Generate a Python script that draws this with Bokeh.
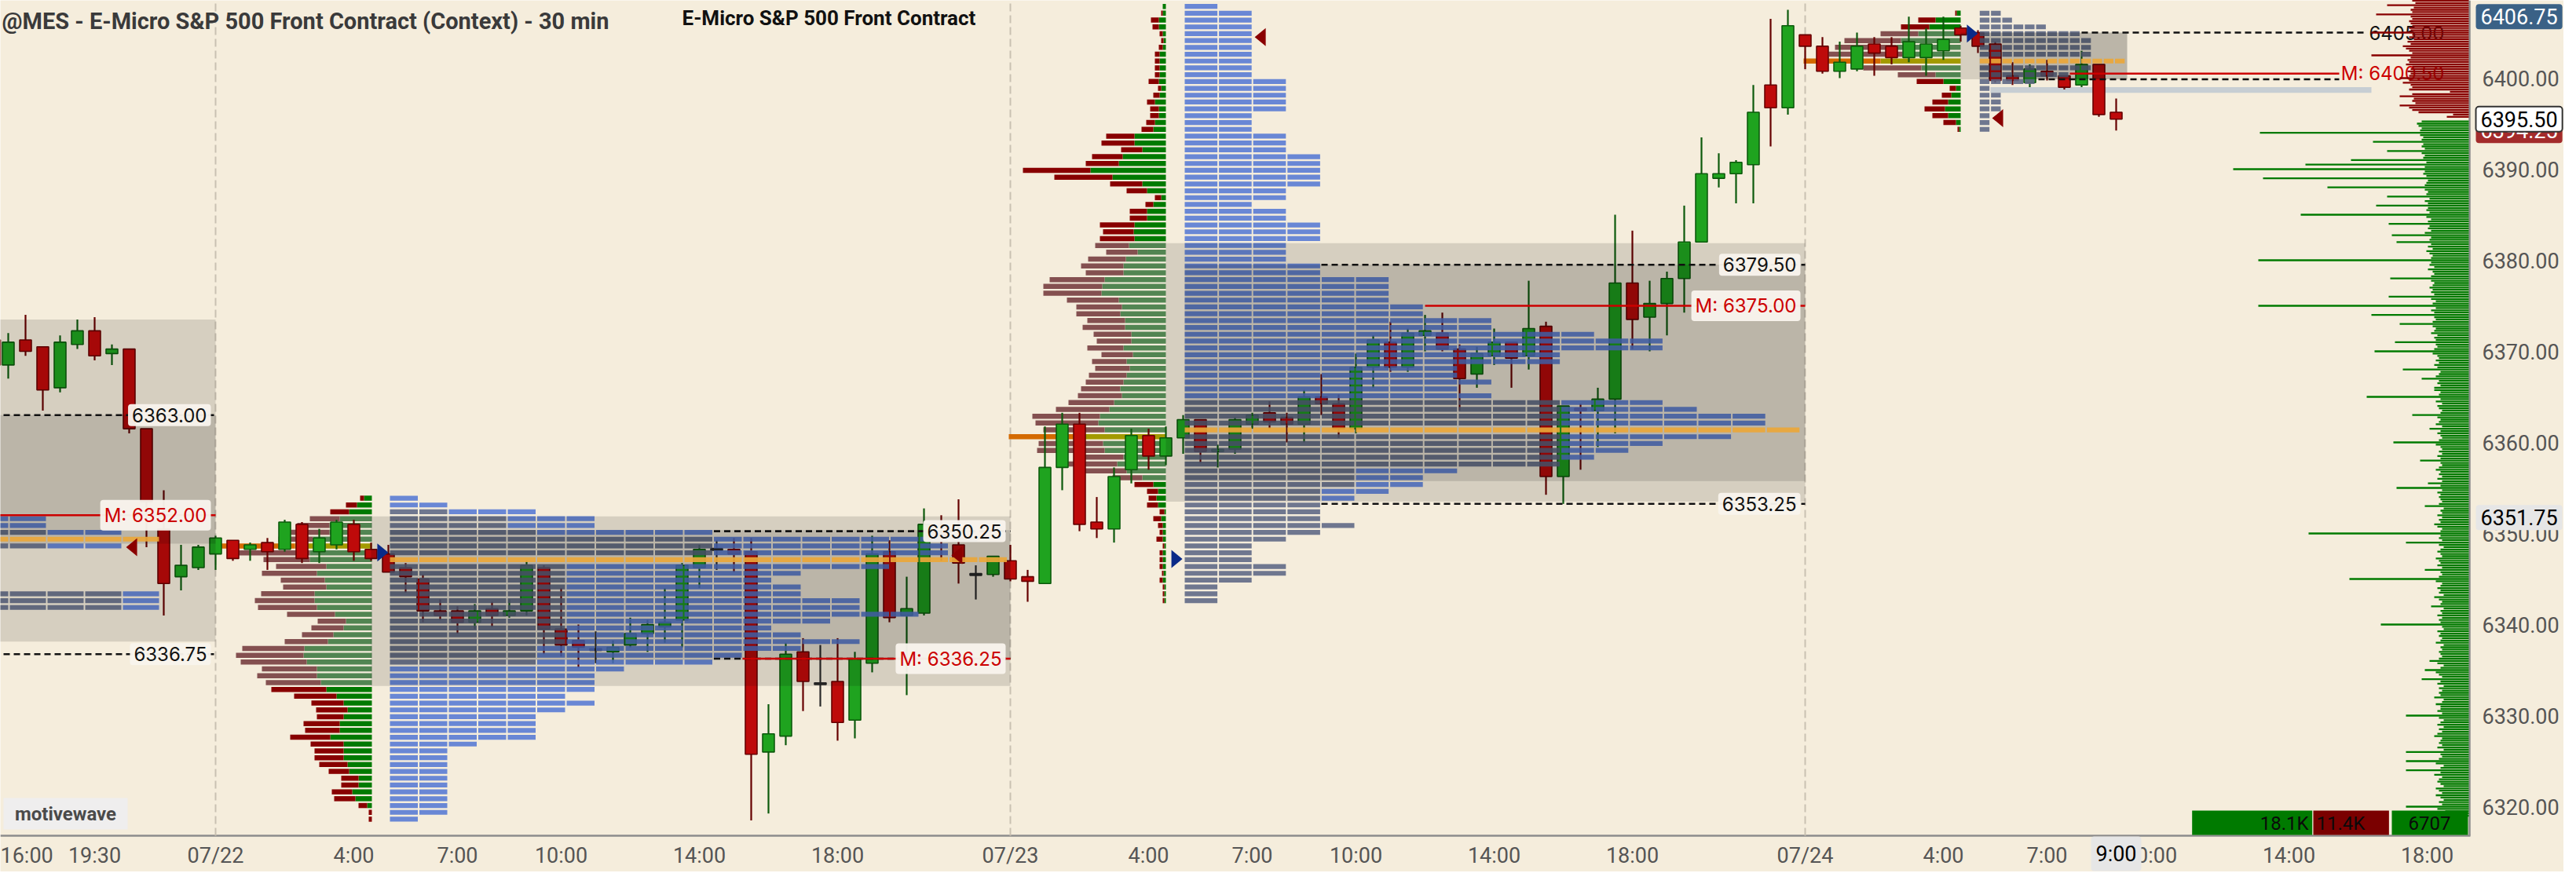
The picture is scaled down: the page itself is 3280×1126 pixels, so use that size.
import numpy as np
from bokeh.plotting import figure
from bokeh.models import Range1d, FixedTicker, Label, NumeralTickFormatter
from bokeh.core.properties import value
from bokeh.embed import file_html
from bokeh.resources import INLINE

# ======================= DATA =======================
# 30-minute bars; bar index 0 = 07/22 00:00, two bars per trading hour (23:00-24:00 break removed)
FIRST_BAR = -13
OPEN = [6371.25, 6368.5, 6371.25, 6370.5, 6366.0, 6370.75, 6372.25, 6369.75, 6370.25, 6361.5, 6350.5, 6345.25, 6346.25,
        6347.75, 6349.25, 6348.25, 6349.0, 6348.25, 6351.0, 6348.0, 6348.75, 6351.0, 6348.25,
        6347.75, 6346.25, 6345.0, 6341.5, 6341.5, 6340.25, 6341.75, 6341.0, 6341.5, 6346.25,
        6339.5, 6338.25, 6337.25, 6337.0, 6337.75, 6339.0, 6339.75, 6340.5, 6346.25, 6348.25,
        6348.25, 6348.0, 6326.0, 6327.75, 6337.0, 6333.5, 6333.75, 6329.5, 6335.75, 6348.0,
        6341.0, 6341.25, 6350.0, 6348.75, 6345.5, 6345.5, 6347.0, 6345.25, 6344.5, 6357.25,
        6362.0, 6351.25, 6350.5, 6357.0, 6360.75, 6358.5, 6360.5, 6362.5, 6359.0, 6359.25,
        6362.0, 6363.25, 6362.75, 6362.0, 6365.0, 6364.25, 6361.5, 6368.25, 6371.0, 6368.25,
        6371.75, 6372.0, 6370.25, 6367.5, 6369.5, 6371.0, 6369.5, 6372.75, 6356.25, 6363.75,
        6363.5, 6364.75, 6377.5, 6373.75, 6375.25, 6378.0, 6382.0, 6389.0, 6389.5, 6390.5,
        6399.25, 6396.75, 6404.75, 6403.5, 6400.75, 6401.0, 6403.75, 6403.5, 6402.25, 6402.25,
        6403.0, 6405.5, 6405.0, 6403.75, 6400.25, 6399.5, 6400.75, 6400.25, 6399.25, 6401.5, 6396.25]
HIGH = [6372.0, 6372.0, 6374.0, 6370.5, 6371.75, 6373.5, 6373.75, 6370.75, 6370.25, 6361.5, 6354.75, 6348.75, 6348.75,
        6349.75, 6349.25, 6349.0, 6349.5, 6351.5, 6351.25, 6350.5, 6351.5, 6351.5, 6349.0,
        6348.75, 6346.75, 6345.5, 6342.75, 6342.0, 6342.25, 6342.5, 6342.75, 6347.0, 6346.5,
        6344.0, 6340.0, 6339.25, 6338.25, 6340.75, 6340.5, 6344.0, 6346.75, 6348.75, 6349.25,
        6349.5, 6349.5, 6331.25, 6338.0, 6338.5, 6337.75, 6338.5, 6337.0, 6349.75, 6349.25,
        6345.25, 6352.75, 6352.0, 6353.75, 6346.5, 6347.5, 6348.75, 6346.0, 6361.75, 6363.25,
        6363.25, 6354.0, 6357.25, 6361.5, 6361.5, 6361.75, 6363.0, 6362.5, 6359.75, 6362.75,
        6363.25, 6364.5, 6363.25, 6365.75, 6367.5, 6365.25, 6369.75, 6371.75, 6373.25, 6372.5,
        6374.0, 6374.25, 6370.75, 6370.5, 6372.5, 6371.0, 6377.75, 6373.25, 6364.0, 6364.25,
        6366.0, 6385.0, 6383.25, 6377.75, 6378.75, 6386.0, 6393.5, 6391.75, 6391.0, 6399.25,
        6406.5, 6407.5, 6404.75, 6404.5, 6404.0, 6405.0, 6404.5, 6404.5, 6406.75, 6405.5,
        6406.75, 6405.75, 6405.25, 6404.0, 6401.75, 6401.5, 6402.0, 6400.25, 6403.0, 6401.5, 6397.75]
LOW = [6368.0, 6367.0, 6369.5, 6363.5, 6365.5, 6370.25, 6369.0, 6368.5, 6361.0, 6348.5, 6341.0, 6343.75, 6346.0,
       6346.0, 6347.0, 6347.0, 6346.0, 6348.0, 6346.75, 6346.75, 6348.25, 6347.0, 6347.0,
       6345.75, 6343.5, 6340.25, 6340.5, 6339.0, 6339.5, 6339.75, 6340.75, 6341.0, 6336.75,
       6336.5, 6335.25, 6335.75, 6335.75, 6337.5, 6337.0, 6338.0, 6337.5, 6344.0, 6346.0,
       6345.75, 6318.5, 6319.25, 6326.75, 6330.5, 6331.0, 6327.25, 6327.5, 6334.75, 6340.25,
       6332.25, 6341.0, 6347.0, 6344.5, 6342.75, 6345.25, 6344.75, 6342.5, 6344.5, 6354.75,
       6350.25, 6349.5, 6349.0, 6355.5, 6357.0, 6357.5, 6358.75, 6357.75, 6357.25, 6358.75,
       6361.5, 6361.5, 6360.0, 6360.0, 6363.0, 6360.5, 6361.0, 6366.0, 6367.75, 6367.75,
       6370.0, 6370.0, 6363.5, 6366.0, 6368.5, 6366.0, 6368.0, 6354.25, 6353.25, 6357.0,
       6359.5, 6361.0, 6370.25, 6370.0, 6371.75, 6374.25, 6382.0, 6388.0, 6386.25, 6386.25,
       6392.5, 6396.0, 6401.0, 6400.5, 6400.0, 6400.75, 6400.25, 6401.5, 6401.75, 6400.25,
       6402.0, 6404.0, 6402.75, 6399.5, 6399.25, 6399.0, 6399.75, 6398.75, 6399.0, 6395.75, 6394.25]
CLOSE = [6368.5, 6371.0, 6370.0, 6365.75, 6371.0, 6372.25, 6369.5, 6370.25, 6361.5, 6353.5, 6344.5, 6346.5, 6348.5,
         6349.5, 6347.25, 6348.75, 6348.0, 6351.25, 6347.25, 6349.5, 6351.25, 6348.0, 6347.25,
         6345.75, 6345.25, 6341.5, 6341.0, 6340.25, 6341.5, 6341.0, 6341.5, 6346.5, 6339.5,
         6337.75, 6337.5, 6337.25, 6337.5, 6339.0, 6340.0, 6340.25, 6346.5, 6348.25, 6348.25,
         6347.75, 6325.75, 6328.0, 6336.75, 6333.75, 6333.5, 6329.25, 6336.25, 6347.75, 6340.75,
         6341.75, 6351.0, 6349.75, 6346.75, 6345.5, 6347.5, 6345.0, 6344.75, 6357.25, 6362.0,
         6351.0, 6350.5, 6356.25, 6360.75, 6358.5, 6360.5, 6362.5, 6359.0, 6359.25, 6362.5,
         6363.0, 6362.25, 6362.0, 6365.0, 6364.25, 6361.5, 6368.25, 6371.25, 6368.25, 6372.0,
         6372.25, 6370.25, 6367.0, 6369.75, 6371.0, 6369.25, 6372.5, 6356.25, 6364.0, 6363.5,
         6364.75, 6377.5, 6373.5, 6375.25, 6378.0, 6382.0, 6389.5, 6389.5, 6390.75, 6396.25,
         6396.75, 6405.75, 6403.5, 6400.75, 6401.75, 6403.5, 6402.75, 6402.25, 6404.0, 6403.75,
         6404.25, 6404.75, 6403.5, 6399.75, 6399.75, 6401.0, 6400.25, 6399.0, 6401.5, 6396.0, 6395.5]

ROW = 0.75  # profile row height in points

# --- 07/21 session (only its right edge is visible) ---
S0_ROW_TOP = 6351.625
S0_TPO = [5, 5, 7, 8, 7, 3, 3, 2, 2, 3, 3, 8, 8, 8]
S0_TPO_ETH = [3, 3, 5, 7, 5, 3, 3, 2, 2, 3, 3, 7, 7, 7]
S0_TPO_POC = 3
S0_VOL_VA = (6373.5, 6338.125)
S0_TPO_VA = (6363.0, 6348.875)
S0_VAH, S0_VAL, S0_MED = 6363.00, 6336.75, 6352.00

# --- 07/22 session ---
S1_ROW_TOP = 6353.875
S1_TPO = [1, 2, 5, 7, 7, 11, 20, 19, 19, 21, 17, 14, 13, 14, 14, 16, 16, 18, 15, 13, 14, 16, 14, 12,
          11, 8, 7, 7, 7, 6, 7, 6, 5, 5, 5, 5, 3, 2, 2, 2, 2, 2, 2, 2, 2, 2, 2, 1]
S1_TPO_ETH = [0, 0, 2, 4, 4, 5, 11, 11, 11, 11, 6, 6, 6, 6, 6, 6, 6, 6, 6, 6, 6, 6, 5, 5,
              5, 0, 0, 0, 0, 0, 0, 0, 0, 0, 0, 0, 0, 0, 0, 0, 0, 0, 0, 0, 0, 0, 0, 0]
S1_TPO_POC = 9
S1_BUY = [10, 19, 29, 41, 54, 54, 75, 98, 79, 79, 58, 70, 60, 58, 73, 73, 70, 47, 33, 36, 49, 56, 86, 87,
          83, 70, 70, 65, 58, 45, 36, 31, 36, 41, 41, 53, 36, 36, 36, 31, 29, 17, 17, 25, 21, 6, 0, 0]
S1_SELL = [5, 14, 24, 38, 41, 54, 44, 103, 91, 59, 64, 70, 56, 55, 68, 76, 75, 61, 36, 41, 40, 55, 79, 86,
           84, 70, 76, 70, 70, 54, 41, 40, 34, 46, 44, 51, 42, 37, 37, 36, 26, 22, 22, 26, 27, 11, 4, 4]
S1_VOL_POC = 7
S1_VOL_VA_ROWS = (3, 27)
S1_VOL_VA = (6351.875, 6333.25)
S1_TPO_VA = (6350.375, 6336.125)
S1_VAH, S1_VAL, S1_MED = 6350.25, 6336.25, 6336.25

# --- 07/23 session ---
S2_ROW_TOP = 6407.875
S2_TPO = [1, 2, 2, 2, 2, 2, 2, 2, 2, 2, 2, 3, 3, 3, 3, 3, 2, 2, 2, 3, 3, 3, 4, 4, 4, 4, 4, 3, 3, 2,
          3, 3, 4, 4, 4, 3, 3, 3, 4, 4, 6, 6, 6, 6, 7, 7, 9, 9, 12, 14, 14, 11, 11, 8, 8, 9, 8, 9,
          14, 15, 17, 17, 18, 16, 14, 13, 12, 11, 8, 7, 7, 6, 5, 4, 4, 4, 5, 4, 3, 2, 2, 2, 3, 3,
          2, 1, 1, 1]
S2_TPO_ETH = [0] * 58 + [11, 11, 11, 11, 11, 11, 11, 11, 11, 11, 5, 5, 5, 4, 4,
                         4, 4, 4, 5, 4, 3, 2, 2, 2, 3, 3, 2, 1, 1, 1]
S2_TPO_POC = 62
S2_BUY = [4, 4, 9, 9, 4, 3, 4, 8, 8, 8, 8, 9, 6, 8, 14, 9, 9, 14, 16, 40, 40, 30, 55, 60, 96, 68, 30, 24,
          6, 16, 24, 24, 40, 41, 40, 47, 36, 51, 54, 54, 78, 81,
          82, 60, 56, 58, 52, 52, 44, 44, 54, 42, 50, 46, 50, 54, 58, 56, 66, 72, 84, 86, 78, 106,
          80, 78, 54, 62, 50, 30, 16, 10, 12, 10, 2, 6, 4, 4, 4, 2, 4, 4, 4, 3, 4, 2, 2, 2]
S2_SELL = [0, 2, 10, 8, 4, 3, 5, 6, 6, 6, 6, 13, 4, 8, 10, 11, 11, 11, 15, 36, 42, 27, 39, 42, 86, 74, 41,
           26, 8, 10, 22, 22, 44, 39, 44, 43, 40, 48, 54, 48, 70, 75,
           74, 66, 58, 56, 48, 54, 48, 44, 46, 40, 44, 44, 48, 48, 50, 56, 58, 68, 86, 80, 78, 94,
           82, 86, 62, 70, 54, 38, 24, 14, 10, 14, 6, 10, 6, 4, 8, 2, 4, 4, 4, 2, 4, 2, 2, 2]
S2_VOL_POC = 63
S2_VOL_VA_ROWS = (35, 69)
S2_VOL_VA = (6381.875, 6353.5)
S2_TPO_VA = (6379.5, 6355.75)
S2_VAH, S2_VAL, S2_MED = 6379.50, 6353.25, 6375.00

# --- 07/24 session (in progress) ---
S3_ROW_TOP = 6407.125
S3_TPO = [2, 3, 6, 9, 10, 10, 10, 13, 10, 8, 5, 1, 2, 2, 2, 1, 1, 1]
S3_TPO_ETH = [2, 3, 6, 9, 10, 10, 10, 13, 10, 8, 5, 1, 2, 2, 2, 1, 1, 1]
S3_TPO_POC = 7
S3_BUY = [5, 32, 40, 54, 76, 82, 74, 102, 50, 32, 22, 6, 12, 16, 20, 16, 6, 2]
S3_SELL = [2, 22, 36, 48, 72, 78, 94, 98, 74, 48, 34, 8, 12, 20, 26, 20, 16, 2]
S3_VOL_POC = 7
S3_VOL_VA_ROWS = (3, 9)
S3_VOL_VA = (6405.0, 6399.875)
S3_TPO_VA = (6405.0, 6399.875)
S3_VAH, S3_VAL, S3_MED = 6405.00, 6399.875, 6400.50
S3_REF_BAND = (6399.0, 6398.375)

# session open / close markers (trading hours since 07/22 00:00, price)
OPEN_MARK_T = [4.84, 27.82, 50.84]
OPEN_MARK_P = [6347.9, 6347.2, 6404.9]
CLOSE_MARK_T = [-2.43, 21.45, 30.23, 51.57]
CLOSE_MARK_P = [6348.5, 6347.6, 6404.5, 6395.6]

# depth of market (contracts per 0.25 tick)
BID_FROM = 6319.0
BID_SIZE = [16, 18, 15, 20, 40, 17, 19, 16, 18, 21, 17, 19, 21, 16, 18, 20, 19, 17, 22, 18,
            40, 18, 16, 21, 40, 19, 17, 18, 40, 16, 20, 17, 19, 18, 17, 22, 20, 17, 19, 16,
            20, 18, 16, 19, 40, 17, 20, 18, 18, 21, 17, 16, 22, 18, 19, 17, 19, 16, 20, 18,
            30, 17, 19, 21, 28, 18, 16, 20, 25, 19, 17, 18, 19, 17, 18, 16, 21, 18, 17, 19,
            18, 20, 16, 17, 56, 18, 19, 17, 20, 17, 18, 16, 24, 18, 17, 19, 22, 16, 19, 18,
            20, 18, 17, 21, 76, 19, 17, 18, 28, 17, 20, 18, 19, 21, 17, 18, 20, 18, 16, 19,
            40, 17, 19, 18, 102, 18, 17, 20, 22, 18, 19, 17, 20, 17, 18, 16, 28, 19, 17, 18,
            19, 18, 20, 17, 46, 18, 26, 17, 20, 17, 19, 18, 21, 19, 17, 18, 31, 18, 20, 17,
            19, 17, 18, 21, 48, 19, 17, 18, 20, 18, 25, 17, 21, 19, 18, 20, 36, 18, 17, 19,
            20, 17, 21, 18, 65, 19, 18, 22, 22, 18, 20, 19, 30, 21, 19, 18, 42, 20, 22, 19,
            21, 19, 20, 23, 60, 22, 20, 21, 47, 21, 22, 20, 24, 22, 21, 23, 44, 23, 21, 22,
            62, 22, 24, 21, 134, 23, 21, 24, 51, 22, 24, 23, 25, 23, 22, 24, 50, 24, 22, 23,
            26, 22, 25, 24, 134, 24, 23, 25, 27, 23, 26, 24, 46, 25, 24, 49, 28, 24, 26, 25,
            51, 26, 24, 27, 107, 25, 27, 26, 59, 26, 28, 25, 52, 27, 26, 28, 90, 28, 27, 26,
            131, 27, 29, 28, 150, 28, 104, 27, 75, 29, 28, 30, 52, 28, 30, 29, 61, 30, 29, 31,
            133, 31, 30, 32, 33, 30]
ASK_FROM = 6395.75
ASK_SIZE = [14, 10, 32, 36, 38, 44, 34, 36, 35, 44, 36, 12, 38, 36, 37, 42, 38, 44, 38, 37, 39,
            37, 36, 40, 38, 39, 37, 62, 36, 38, 40, 42, 37, 39, 35, 38, 36, 62, 37, 38, 36,
            37, 38, 36, 37, 59, 36, 37, 35, 52, 34, 36, 35, 32]

BUY_VOL, SELL_VOL, DELTA = 18100, 11400, 6707
HIGH_PRICE, LAST_PRICE, BID_PRICE, CURSOR_PRICE = 6406.75, 6395.50, 6394.25, 6351.75
CURSOR_TIME_T, CURSOR_TIME_LABEL = 55, "9:00"

TIME_TICKS = [-5.7, -3.5, 0, 4, 7, 10, 14, 18, 23, 27, 30, 33, 37, 41, 46, 50, 53, 56, 60, 64]
TIME_LABELS = ["16:00", "19:30", "07/22", "4:00", "7:00", "10:00", "14:00", "18:00", "07/23", "4:00",
               "7:00", "10:00", "14:00", "18:00", "07/24", "4:00", "7:00", "10:00", "14:00", "18:00"]
SESSION_STARTS = [0, 23, 46]
PRICE_TICKS = [6320, 6330, 6340, 6350, 6360, 6370, 6380, 6390, 6400]

# ======================= LAYOUT / STYLE =======================
# page pixels -> data.  The frame covers the whole canvas; both axes sit at fixed locations inside it.
PX_PER_H = 44.0
PX_PER_PT = 11.6
def X(px):
    return (px - 282.0) / PX_PER_H
def Y(py):
    return 6400.0 - (py - 107.0) / PX_PER_PT
PT_PER_PX = 1 / PX_PER_PT
AXIS_X_PX, AXIS_Y_PX = 3152, 1072

BG = "#F5EDDC"
GREEN, GREEN_LN = "#1FA31F", "#0C5A0C"
RED, RED_LN = "#BE0A0A", "#660000"
TPO_BLUE, TPO_GRAY, POC_ORANGE = "#5579D4", "#5C6684", "#EAA73A"
VOL_RED, VOL_GREEN = "#880000", "#007A00"
VA_RED, VA_GREEN = "#845050", "#528552"
POC_SELL, POC_BUY = "#D46A00", "#A39A00"
BOX_COLOR, BOX_ALPHA = "#000000", 0.125
VOL_PX = 1.0      # px per volume unit
DOM_PX = 2.0      # px per contract
DELTA_PX = 153.0 / 18100

p = figure(frame_width=3264, frame_height=1110,
           x_range=Range1d(X(8), X(3272)), y_range=Range1d(Y(1118), Y(8)),
           output_backend="svg", toolbar_location=None, y_axis_location="right",
           min_border_left=0, min_border_top=0, min_border_right=0, min_border_bottom=0)
p.background_fill_color = BG
p.border_fill_color = BG
p.outline_line_color = None
p.grid.visible = False

for ax in (p.xaxis[0], p.yaxis[0]):
    ax.axis_line_color = None
    ax.major_tick_line_color = None
    ax.minor_tick_line_color = None
    ax.major_tick_out = 0
    ax.major_tick_in = 0
    ax.major_label_text_font = "Roboto"
    ax.major_label_text_font_size = "27px"
    ax.major_label_text_color = "#555555"
p.xaxis.fixed_location = Y(AXIS_Y_PX)
p.yaxis.fixed_location = X(AXIS_X_PX)
p.xaxis.ticker = FixedTicker(ticks=TIME_TICKS)
p.xaxis.major_label_overrides = {float(t): l for t, l in zip(TIME_TICKS, TIME_LABELS)}
p.xaxis.major_label_standoff = 9
p.yaxis.ticker = FixedTicker(ticks=PRICE_TICKS)
p.yaxis.formatter = NumeralTickFormatter(format="0.00")
p.yaxis.major_label_standoff = 16

# axis lines (price scale and time scale borders)
p.segment(x0=[X(8), X(AXIS_X_PX)], x1=[X(AXIS_X_PX + 1), X(AXIS_X_PX)],
          y0=[Y(AXIS_Y_PX), Y(AXIS_Y_PX)], y1=[Y(AXIS_Y_PX), Y(8)],
          line_color="#8C8C8C", line_width=2.5)

# session dividers
p.segment(x0=SESSION_STARTS, x1=SESSION_STARTS, y0=[Y(AXIS_Y_PX)] * 3, y1=[Y(0)] * 3,
          line_color="#C9C1B2", line_width=2, line_dash="10 5")

sessions = [
    dict(top=S0_ROW_TOP, tpo=S0_TPO, eth=S0_TPO_ETH, tpo_poc=S0_TPO_POC, buy=None,
         tpo_x0=-172, col=48, vol_anchor=None, box_x0=(-40, -40), end=282,
         vol_va=S0_VOL_VA, tpo_va=S0_TPO_VA, vah=S0_VAH, val=S0_VAL, med=S0_MED,
         starts=(-40, -40, -40), ends=(282, 282, 282)),
    dict(top=S1_ROW_TOP, tpo=S1_TPO, eth=S1_TPO_ETH, tpo_poc=S1_TPO_POC, buy=S1_BUY, sell=S1_SELL,
         vol_poc=S1_VOL_POC, va_rows=S1_VOL_VA_ROWS, tpo_x0=504, col=37.5, vol_anchor=481,
         box_x0=(480, 504), end=1294, vol_va=S1_VOL_VA, tpo_va=S1_TPO_VA, vah=S1_VAH, val=S1_VAL,
         med=S1_MED, starts=(916.5, 916.5, 953), ends=(1294, 1294, 1294)),
    dict(top=S2_ROW_TOP, tpo=S2_TPO, eth=S2_TPO_ETH, tpo_poc=S2_TPO_POC, buy=S2_BUY, sell=S2_SELL,
         vol_poc=S2_VOL_POC, va_rows=S2_VOL_VA_ROWS, tpo_x0=1516, col=43.6, vol_anchor=1492,
         box_x0=(1492, 1516), end=2306, vol_va=S2_VOL_VA, tpo_va=S2_TPO_VA, vah=S2_VAH, val=S2_VAL,
         med=S2_MED, starts=(1690, 1690, 1822), ends=(2306, 2306, 2306)),
    dict(top=S3_ROW_TOP, tpo=S3_TPO, eth=S3_TPO_ETH, tpo_poc=S3_TPO_POC, buy=S3_BUY, sell=S3_SELL,
         vol_poc=S3_VOL_POC, va_rows=S3_VOL_VA_ROWS, tpo_x0=2528.3, col=14.35, vol_anchor=2504,
         box_x0=(2504, 2528), end=2716, vol_va=S3_VOL_VA, tpo_va=S3_TPO_VA, vah=S3_VAH, val=S3_VAL,
         med=S3_MED, starts=(2658, 2603, 2643), ends=(3022, 2986, 2986)),
]

# ---- context volume profiles (sell red / buy green, growing left from anchor) ----
L, R, B, T, C = [], [], [], [], []
for s in sessions:
    if s["buy"] is None:
        continue
    a = s["vol_anchor"]
    for r, (bv, sv) in enumerate(zip(s["buy"], s["sell"])):
        yc = s["top"] - r * ROW
        bl = bv * VOL_PX
        sl = sv * VOL_PX
        if r == s["vol_poc"]:
            cb, cs = POC_BUY, POC_SELL
        elif s["va_rows"][0] <= r <= s["va_rows"][1]:
            cb, cs = VA_GREEN, VA_RED
        else:
            cb, cs = VOL_GREEN, VOL_RED
        for lft, rgt, col in ((a - bl, a, cb), (a - bl - sl, a - bl, cs)):
            if rgt - lft <= 0:
                continue
            L.append(X(lft)); R.append(X(rgt)); B.append(yc - 0.28); T.append(yc + 0.28); C.append(col)
p.quad(left=L, right=R, bottom=B, top=T, fill_color=C, line_color=None)

# light reference band in current session
p.quad(left=[X(2542)], right=[X(3027)], bottom=[S3_REF_BAND[1]], top=[S3_REF_BAND[0]],
       fill_color="#C4CCD2", line_color=None, fill_alpha=0.95)

# ---- candles ----
n = len(OPEN)
bx = [(FIRST_BAR + k) * 0.5 for k in range(n)]
fill, line, btop, bbot = [], [], [], []
for o, h, l, c in zip(OPEN, HIGH, LOW, CLOSE):
    if c > o:
        fill.append(GREEN); line.append(GREEN_LN)
    elif c < o:
        fill.append(RED); line.append(RED_LN)
    else:
        fill.append("#2A2A2A"); line.append("#2A2A2A")
    t, b = max(o, c), min(o, c)
    if t - b < 0.2:
        m = (t + b) / 2
        t, b = m + 0.1, m - 0.1
    btop.append(t); bbot.append(b)
p.segment(x0=bx, x1=bx, y0=LOW, y1=HIGH, line_color=line, line_width=2.2)
p.vbar(x=bx, width=0.34, top=btop, bottom=bbot, fill_color=fill, line_color=line, line_width=1.6)

# ---- TPO blocks ----
L, R, B, T, C = [], [], [], [], []
PL, PR, PB, PT = [], [], [], []
hh = (ROW - 2.5 * PT_PER_PX) / 2
for s in sessions:
    for r, (cnt, eth) in enumerate(zip(s["tpo"], s["eth"])):
        yc = s["top"] - r * ROW
        for c in range(cnt):
            lft = X(s["tpo_x0"] + c * s["col"])
            rgt = X(s["tpo_x0"] + (c + 1) * s["col"] - 2)
            if r == s["tpo_poc"]:
                PL.append(lft); PR.append(rgt); PB.append(yc - hh); PT.append(yc + hh)
            else:
                L.append(lft); R.append(rgt); B.append(yc - hh); T.append(yc + hh)
                C.append(TPO_GRAY if c < eth else TPO_BLUE)
p.quad(left=L, right=R, bottom=B, top=T, fill_color=C, fill_alpha=0.88, line_color=None)

# ---- value area boxes ----
L, R, B, T = [], [], [], []
for s in sessions:
    for (top, bot), x0 in ((s["vol_va"], s["box_x0"][0]), (s["tpo_va"], s["box_x0"][1])):
        L.append(X(x0)); R.append(X(s["end"])); B.append(bot); T.append(top)
p.quad(left=L, right=R, bottom=B, top=T, fill_color=BOX_COLOR, fill_alpha=BOX_ALPHA, line_color=None)

# POC rows
p.quad(left=PL, right=PR, bottom=PB, top=PT, fill_color=POC_ORANGE, fill_alpha=0.92, line_color=None)

# ---- VAH / VAL dashed lines and median lines ----
for s in sessions:
    st, en = s["starts"], s["ends"]
    p.segment(x0=[X(st[0]), X(st[1])], x1=[X(en[0]), X(en[1])],
              y0=[s["vah"], s["val"]], y1=[s["vah"], s["val"]],
              line_color="#111111", line_width=2.6, line_dash="8 5")
    p.segment(x0=[X(st[2])], x1=[X(en[2])], y0=[s["med"]], y1=[s["med"]],
              line_color="#CC0000", line_width=2.6)

# ---- open / close markers ----
hw, hv = 7 / PX_PER_H, 11.5 * PT_PER_PX
p.patches(xs=[[t - hw, t - hw, t + hw] for t in OPEN_MARK_T],
          ys=[[v + hv, v - hv, v] for v in OPEN_MARK_P], fill_color="#0A2A88", line_color=None)
p.patches(xs=[[t + hw, t + hw, t - hw] for t in CLOSE_MARK_T],
          ys=[[v + hv, v - hv, v] for v in CLOSE_MARK_P], fill_color="#8A0000", line_color=None)

# ---- titles and watermark ----
p.text(x=[X(10)], y=[Y(34)], text=["@MES - E-Micro S&P 500 Front Contract (Context) - 30 min"],
       text_font=value("Roboto"), text_font_style="bold", text_font_size="29px",
       text_color="#3A3A3A", text_baseline="middle", text_align="left")
p.text(x=[X(876)], y=[Y(30)], text=["E-Micro S&P 500 Front Contract"],
       text_font=value("Roboto"), text_font_style="bold", text_font_size="26px",
       text_color="#111111", text_baseline="middle", text_align="left")
p.quad(left=[X(12)], right=[X(170)], bottom=[Y(1064)], top=[Y(1024)], fill_color="#EEEEEE",
       fill_alpha=0.95, line_color=None)
p.text(x=[X(91)], y=[Y(1044)], text=["motivewave"], text_font=value("Roboto"), text_font_style="bold",
       text_font_size="24px", text_color="#4A4A4A", text_baseline="middle", text_align="center")

# ---- depth of market on the right edge ----
AX = AXIS_X_PX - 1
bid_p = [BID_FROM + 0.25 * k for k in range(len(BID_SIZE))]
ask_p = [ASK_FROM + 0.25 * k for k in range(len(ASK_SIZE))]
dh = 0.1
r1 = p.quad(left=[X(AX - v * DOM_PX) for v in BID_SIZE], right=[X(AX)] * len(BID_SIZE),
            bottom=[v - dh for v in bid_p], top=[v + dh for v in bid_p],
            fill_color="#007A00", line_color=None)
r2 = p.quad(left=[X(AX - v * DOM_PX) for v in ASK_SIZE], right=[X(AX)] * len(ASK_SIZE),
            bottom=[v - dh for v in ask_p], top=[v + dh for v in ask_p],
            fill_color="#880000", line_color=None)
r1.level = "overlay"; r2.level = "overlay"

# ---- buy / sell / delta box ----
yb, yt = Y(1071), Y(1040)
gx0 = 2951.7 - BUY_VOL * DELTA_PX
rx1 = 2953 + SELL_VOL * DELTA_PX
r3 = p.quad(left=[X(gx0), X(2953), X(3053)], right=[X(2951.7), X(rx1), X(3150)],
            bottom=[yb] * 3, top=[yt] * 3, fill_color=["#007A00", "#7A0000", "#007A00"], line_color=None)
r4 = p.text(x=[X(2947), X(2957), X(3101)], y=[Y(1056)] * 3,
            text=["%.1fK" % (BUY_VOL / 1000), "%.1fK" % (SELL_VOL / 1000), str(DELTA)],
            text_align=["right", "left", "center"], text_baseline="middle",
            text_font=value("Roboto"), text_font_size="24px", text_color="#0A0A0A")
r3.level = "overlay"; r4.level = "overlay"

# ---- session labels ----
def tag(xr, price, text, color="#111111", bg=True):
    kw = dict(background_fill_color="#F8F4EC", background_fill_alpha=0.96, padding=5, border_radius=4) if bg else {}
    p.add_layout(Label(x=X(xr), y=price, text=text, text_align="right", text_baseline="middle",
                       text_font="Inter", text_font_size="24px", text_color=color, **kw))

tag(276, S0_VAH, "%.2f" % S0_VAH)
tag(276, S0_MED, "M: %.2f" % S0_MED, "#CC0000")
tag(276, S0_VAL, "%.2f" % S0_VAL)
tag(1288, S1_VAH, "%.2f" % S1_VAH)
tag(1288, S1_MED, "M: %.2f" % S1_MED, "#CC0000")
tag(2300, S2_VAH, "%.2f" % S2_VAH)
tag(2300, S2_MED, "M: %.2f" % S2_MED, "#CC0000")
tag(2300, S2_VAL, "%.2f" % S2_VAL)
tag(3120, S3_VAH, "%.2f" % S3_VAH, bg=False)
tag(3120, S3_MED, "M: %.2f" % S3_MED, "#CC0000", bg=False)

# ---- price-axis tags ----
def axtag(price, text, bg, fg, border=None):
    p.add_layout(Label(x=X(AXIS_X_PX + 8), y=price, text=text, text_align="left", text_baseline="middle",
                       text_font="Roboto", text_font_size="27px", text_color=fg,
                       background_fill_color=bg, background_fill_alpha=1.0,
                       border_line_color=border, border_line_width=2 if border else 0,
                       padding=6, border_radius=4))

axtag(HIGH_PRICE, "%.2f" % HIGH_PRICE, "#3A6186", "#FFFFFF")
axtag(BID_PRICE, "%.2f" % BID_PRICE, "#A32B2B", "#FFFFFF")
axtag(LAST_PRICE, "%.2f" % LAST_PRICE, "#FFFFFF", "#000000", "#333333")
axtag(CURSOR_PRICE, "%.2f" % CURSOR_PRICE, "#E6E6E6", "#000000")

# crosshair time tag
p.add_layout(Label(x=CURSOR_TIME_T, y=Y(1095), text=CURSOR_TIME_LABEL, text_align="center",
                   text_baseline="middle", text_font="Roboto", text_font_size="27px", text_color="#000000",
                   background_fill_color="#E6E6E6", background_fill_alpha=1.0, padding=6, border_radius=4))

open("out.html", "w").write(file_html(p, INLINE))
